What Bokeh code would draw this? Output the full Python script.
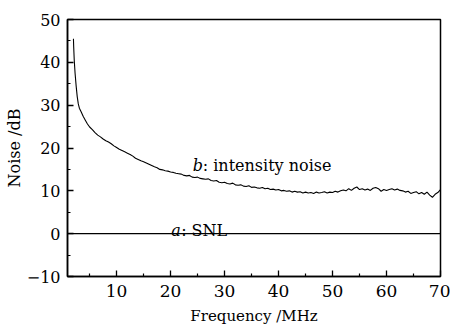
from bokeh.plotting import figure
from bokeh.models import FixedTicker, Range1d
from bokeh.core.properties import value
from bokeh.embed import file_html
from bokeh.resources import INLINE

# ---- data ----
freq_mhz = [2.0, 2.05, 2.15, 2.3, 2.5, 2.7, 2.9, 3.1, 3.4, 3.8, 4.2, 4.6,
            5.0, 5.5, 6.0, 6.5, 7.0, 7.5, 8.0, 8.5, 9.0, 9.5,
            10.0, 10.5, 11.0, 11.5, 12.0, 12.5, 13.0, 13.5, 14.0, 14.5,
            15.0, 15.5, 16.0, 16.5, 17.0, 17.5, 18.0, 18.5, 19.0, 19.5,
            20.0, 20.5, 21.0, 21.5, 22.0, 22.5, 23.0, 23.5, 24.0, 24.5,
            25.0, 25.5, 26.0, 26.5, 27.0, 27.5, 28.0, 28.5, 29.0, 29.5,
            30.0, 30.5, 31.0, 31.5, 32.0, 32.5, 33.0, 33.5, 34.0, 34.5,
            35.0, 35.5, 36.0, 36.5, 37.0, 37.5, 38.0, 38.5, 39.0, 39.5,
            40.0, 40.5, 41.0, 41.5, 42.0, 42.5, 43.0, 43.5, 44.0, 44.5,
            45.0, 45.5, 46.0, 46.5, 47.0, 47.5, 48.0, 48.5, 49.0, 49.5,
            50.0, 50.5, 51.0, 51.5, 52.0, 52.5, 53.0, 53.5, 54.0, 54.5,
            55.0, 55.5, 56.0, 56.5, 57.0, 57.5, 58.0, 58.5, 59.0, 59.5,
            60.0, 60.5, 61.0, 61.5, 62.0, 62.5, 63.0, 63.5, 64.0, 64.5,
            65.0, 65.5, 66.0, 66.5, 67.0, 67.5, 68.0, 68.5, 69.0, 69.5,
            70.0]
intensity_noise_db = [45.5, 43.5, 40.5, 37.5, 34.5, 32.0, 30.3, 29.3, 28.5, 27.4, 26.5, 25.6,
                      24.9, 24.3, 23.6, 23.0, 22.6, 22.1, 21.7, 21.4, 21.0, 20.5,
                      20.1, 19.7, 19.4, 19.1, 18.8, 18.5, 18.1, 17.6, 17.3, 17.0,
                      16.8, 16.5, 16.2, 15.9, 15.6, 15.4, 15.0, 14.9, 14.7, 14.6,
                      14.4, 14.3, 14.1, 14.0, 13.9, 13.6, 13.5, 13.6, 13.2, 13.1,
                      13.2, 12.9, 12.8, 12.7, 12.8, 12.4, 12.3, 12.4, 12.0, 11.9,
                      12.0, 11.7, 11.6, 11.8, 11.4, 11.3, 11.4, 11.1, 11.0, 11.2,
                      10.8, 10.9, 10.7, 10.6, 10.8, 10.5, 10.6, 10.3, 10.4, 10.2,
                      10.3, 10.0, 10.1, 9.9, 10.0, 9.7, 9.9, 9.7, 9.8, 9.5,
                      9.7, 9.5, 9.6, 9.4, 9.7, 9.5, 9.6, 9.8, 9.5, 9.7,
                      9.6, 9.9, 9.7, 10.0, 10.2, 10.0, 10.5, 10.1, 10.6, 10.9,
                      10.3, 10.5, 10.2, 10.4, 10.1, 10.6, 10.8, 10.5, 9.9, 10.3,
                      10.1, 10.3, 10.5, 10.2, 10.4, 10.1, 10.0, 9.7, 9.9, 9.4,
                      9.6, 9.8, 9.3, 9.6, 9.2, 9.7, 9.0, 8.5, 9.2, 9.6,
                      10.3]
snl_freq_mhz = [0.9, 10.0, 20.0, 30.0, 40.0, 50.0, 60.0, 70.0]
snl_db = [0.0, 0.0, 0.0, 0.0, 0.0, 0.0, 0.0, 0.0]

x_major_ticks = [10, 20, 30, 40, 50, 60, 70]
x_minor_ticks = [5, 15, 25, 35, 45, 55, 65]
y_major_ticks = [-10, 0, 10, 20, 30, 40, 50]
y_minor_ticks = [-5, 5, 15, 25, 35, 45]

label_b = ("b", ": intensity noise")
label_a = ("a", ": SNL")
label_b_pos = (24.1, 16.0)
label_a_pos = (20.1, 0.8)

FONT = "DejaVu Serif"

p = figure(width=450, height=327, output_backend="svg", toolbar_location=None,
           x_range=Range1d(0.9, 70), y_range=Range1d(-10, 50),
           min_border_left=67, min_border_right=10, min_border_top=19,
           min_border_bottom=50)

p.grid.visible = False
p.outline_line_color = "black"
p.outline_line_width = 1.5
p.background_fill_color = "white"
p.border_fill_color = "white"

p.xaxis.ticker = FixedTicker(ticks=x_major_ticks, minor_ticks=x_minor_ticks)
p.yaxis.ticker = FixedTicker(ticks=y_major_ticks, minor_ticks=y_minor_ticks)
p.yaxis.major_label_overrides = {-10: "\u221210"}

for ax in (p.xaxis[0], p.yaxis[0]):
    ax.axis_line_color = "black"
    ax.axis_line_width = 1.5
    ax.major_tick_in = 6
    ax.major_tick_out = 0
    ax.minor_tick_in = 3
    ax.minor_tick_out = 0
    ax.major_tick_line_color = "black"
    ax.minor_tick_line_color = "black"
    ax.major_tick_line_width = 1.3
    ax.minor_tick_line_width = 1.2
    ax.major_label_text_font = FONT
    ax.major_label_text_font_size = "16px"
    ax.major_label_text_color = "black"
    ax.axis_label_text_font = FONT
    ax.axis_label_text_font_style = "normal"
    ax.axis_label_text_color = "black"

p.xaxis.axis_label = "Frequency /MHz"
p.xaxis.major_label_text_font_size = "17px"
p.xaxis.axis_label_text_font_size = "15px"
p.xaxis.major_label_standoff = 8
p.xaxis.axis_label_standoff = 7
p.yaxis.axis_label = "Noise /dB"
p.yaxis.axis_label_text_font_size = "16px"
p.yaxis.major_label_standoff = 7
p.yaxis.axis_label_standoff = 0

p.line(snl_freq_mhz, snl_db, line_color="black", line_width=1.2)
p.line(freq_mhz, intensity_noise_db, line_color="black", line_width=1.1)

for (ital, rest), (lx, ly), off in ((label_b, label_b_pos, 10), (label_a, label_a_pos, 10)):
    p.text(x=[lx], y=[ly], text=[ital], text_font=value(FONT), text_font_style="italic",
           text_font_size="16px", text_baseline="alphabetic", text_align="left",
           text_color="black")
    p.text(x=[lx], y=[ly], text=[rest], text_font=value(FONT), text_font_size="16px",
           text_baseline="alphabetic", text_align="left", text_color="black",
           x_offset=off)

open("out.html", "w").write(file_html(p, INLINE))
